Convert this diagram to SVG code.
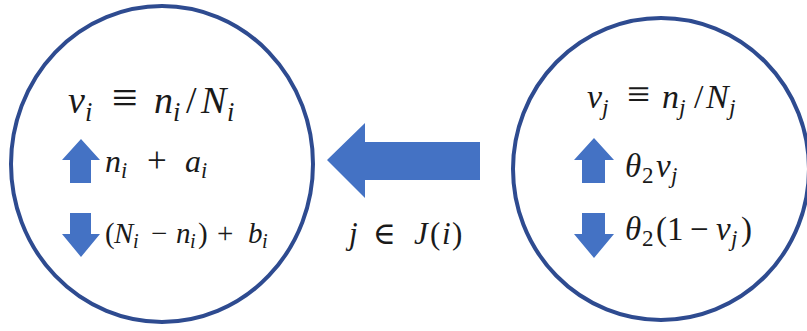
<svg xmlns="http://www.w3.org/2000/svg" width="807" height="331" viewBox="0 0 807 331">
<defs>
<style>
.node{fill:#fff;stroke:#2E4B90;stroke-width:4}
.arr{fill:#4472C4}
.m{font-family:"Liberation Serif","DejaVu Serif",serif;fill:#1a1a1a}
.i{font-style:italic}
.s{font-size:0.7em}
</style>
</defs>
<rect width="807" height="331" fill="#fff"/>
<g id="node-i">
<ellipse class="node" cx="162" cy="164" rx="151" ry="158"/>
<text class="m" y="113" font-size="38"><tspan class="i" x="68">v</tspan><tspan class="i s" x="85" y="121">i</tspan><tspan x="112" y="113" font-size="46">≡</tspan><tspan class="i" x="154">n</tspan><tspan class="i s" x="173" y="121">i</tspan><tspan x="186" y="113">/</tspan><tspan class="i" x="201">N</tspan><tspan class="i s" x="227" y="121">i</tspan></text>
<path class="arr" d="M81,139 L100,160 L91,160 L91,183 L70,183 L70,160 L62,160 Z"/>
<text class="m" y="172" font-size="32"><tspan class="i" x="105">n</tspan><tspan class="i s" x="121" y="178">i</tspan><tspan x="147" y="172" font-size="35">+</tspan><tspan class="i" x="185">a</tspan><tspan class="i s" x="201" y="178">i</tspan></text>
<path class="arr" d="M70,213 L91,213 L91,234 L100,234 L81,257 L62,234 L70,234 Z"/>
<text class="m" y="243" font-size="29"><tspan x="105">(</tspan><tspan class="i" x="114">N</tspan><tspan class="i s" x="133" y="248">i</tspan><tspan x="151" y="243">−</tspan><tspan class="i" x="176">n</tspan><tspan class="i s" x="190" y="248">i</tspan><tspan x="198" y="243">)</tspan><tspan x="217">+</tspan><tspan class="i" x="248">b</tspan><tspan class="i s" x="262" y="248">i</tspan></text>
</g>
<g id="node-j">
<ellipse class="node" cx="661" cy="169" rx="148" ry="151"/>
<text class="m" y="108" font-size="34"><tspan class="i" x="587">v</tspan><tspan class="i s" x="602" y="115">j</tspan><tspan x="627" y="108" font-size="41">≡</tspan><tspan class="i" x="662">n</tspan><tspan class="i s" x="679" y="115">j</tspan><tspan x="694" y="108">/</tspan><tspan class="i" x="706">N</tspan><tspan class="i s" x="729" y="115">j</tspan></text>
<path class="arr" d="M594,138 L614,160 L605,160 L605,183 L582,183 L582,160 L574,160 Z"/>
<text class="m" y="177" font-size="33"><tspan class="i" x="625">θ</tspan><tspan class="s" x="642" y="183">2</tspan><tspan class="i" x="656" y="177">v</tspan><tspan class="i s" x="671" y="183">j</tspan></text>
<path class="arr" d="M582,213 L605,213 L605,234 L614,234 L594,258 L574,234 L582,234 Z"/>
<text class="m" y="240" font-size="33"><tspan class="i" x="625">θ</tspan><tspan class="s" x="642" y="246">2</tspan><tspan x="656" y="240">(</tspan><tspan x="667">1</tspan><tspan x="690">−</tspan><tspan class="i" x="716">v</tspan><tspan class="i s" x="731" y="246">j</tspan><tspan x="741" y="240">)</tspan></text>
</g>
<g id="connectors">
<path class="arr" d="M327,160 L365,123 L365,142 L480,142 L480,180 L365,180 L365,198 Z"/>
<text class="m" y="244" font-size="31"><tspan class="i" x="349">j</tspan><tspan x="373">∈</tspan><tspan class="i" x="414">J</tspan><tspan x="430">(</tspan><tspan class="i" x="442">i</tspan><tspan x="452">)</tspan></text>
</g>
</svg>
